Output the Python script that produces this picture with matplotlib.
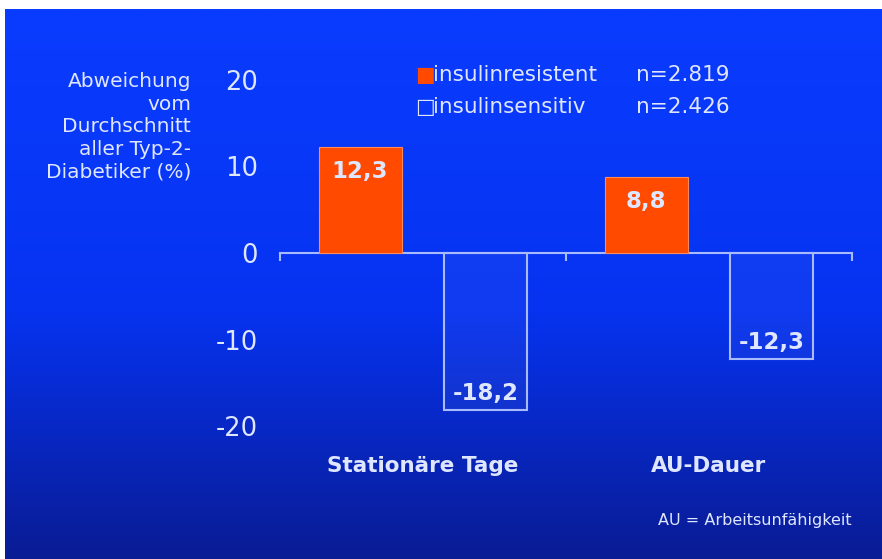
import matplotlib.pyplot as plt
import numpy as np
from matplotlib.colors import LinearSegmentedColormap

# Abweichung vom Durchschnitt aller Typ-2-Diabetiker (%)
categories = ['Stationäre Tage', 'AU-Dauer']
resistent = [12.3, 8.8]
sensitiv = [-18.2, -12.3]
resistent_labels = ['12,3', '8,8']
sensitiv_labels = ['-18,2', '-12,3']
yticks = [-20, -10, 0, 10, 20]

TEXT = '#dfe6ff'
ORANGE = '#ff4a00'
LINE = '#a9bbff'

fig = plt.figure(figsize=(8.82, 5.59), dpi=100)
fig.patch.set_facecolor('white')

# vertical gradient background
bg = fig.add_axes([5 / 882, 0, 1 - 5 / 882, 1 - 9 / 559])
bg_cmap = LinearSegmentedColormap.from_list(
    'slide_bg', [(0.0, '#0a1c94'), (0.45, '#0633f0'), (1.0, '#0a3cff')])
grad = np.linspace(0, 1, 256).reshape(-1, 1)
bg.imshow(grad, cmap=bg_cmap, aspect='auto', origin='lower',
          extent=[0, 1, 0, 1])
bg.set_axis_off()

ax = fig.add_axes([280 / 882, 1 - 426 / 559, 572 / 882, 346 / 559])
ax.patch.set_alpha(0)

x = np.arange(len(categories))
off = 0.22
width = 0.29
ax.bar(x - off, resistent, width, color=ORANGE, edgecolor='#ff8a60',
       linewidth=0.8, zorder=3)
ax.bar(x + off, sensitiv, width, color='#ffffff', alpha=0.045, zorder=3)
ax.bar(x + off, sensitiv, width, fill=False, edgecolor=LINE,
       linewidth=1.5, zorder=3)

for xi, v, lab in zip(x - off, resistent, resistent_labels):
    ax.text(xi, v - 2.9, lab, ha='center', va='center', color=TEXT,
            fontsize=16.5, fontweight='bold', zorder=4)
for xi, v, lab in zip(x + off, sensitiv, sensitiv_labels):
    ax.text(xi, v + 1.9, lab, ha='center', va='center', color=TEXT,
            fontsize=16.5, fontweight='bold', zorder=4)

for xi, cat in zip(x, categories):
    ax.text(xi, -24.6, cat, ha='center', va='center', color=TEXT,
            fontsize=15.5, fontweight='bold', clip_on=False)

ax.set_xlim(-0.5, 1.5)
ax.set_ylim(-20, 20)
ax.set_yticks(yticks)
ax.set_yticklabels([str(t) for t in yticks], color=TEXT, fontsize=18.5)
ax.tick_params(axis='y', length=0, pad=16)
for s in ['top', 'right', 'left']:
    ax.spines[s].set_visible(False)
ax.spines['bottom'].set_position(('data', 0))
ax.spines['bottom'].set_color(LINE)
ax.spines['bottom'].set_linewidth(1.5)
ax.set_xticks([-0.5, 0.5, 1.5])
ax.set_xticklabels([])
ax.tick_params(axis='x', direction='out', length=6, width=1.5, color=LINE)

fig.text(191 / 882, 1 - 127 / 559,
         'Abweichung\nvom\nDurchschnitt\naller Typ-2-\nDiabetiker (%)',
         ha='right', va='center', color=TEXT, fontsize=14.5,
         linespacing=1.24)

# legend
fig.text(425 / 882, 1 - 75 / 559, '\u25A0', ha='center', va='center',
         color=ORANGE, fontsize=15)
fig.text(425 / 882, 1 - 107 / 559, '\u25A1', ha='center', va='center',
         color=TEXT, fontsize=15)
fig.text(433 / 882, 1 - 75 / 559, 'insulinresistent', ha='left',
         va='center', color=TEXT, fontsize=15.5)
fig.text(433 / 882, 1 - 107 / 559, 'insulinsensitiv', ha='left',
         va='center', color=TEXT, fontsize=15.5)
fig.text(636 / 882, 1 - 75 / 559, 'n=2.819', ha='left', va='center',
         color=TEXT, fontsize=15.5)
fig.text(636 / 882, 1 - 107 / 559, 'n=2.426', ha='left', va='center',
         color=TEXT, fontsize=15.5)

fig.text(852 / 882, 1 - 520 / 559, 'AU = Arbeitsunfähigkeit', ha='right',
         va='center', color=TEXT, fontsize=11.5)

fig.savefig('out.png', dpi=100)
